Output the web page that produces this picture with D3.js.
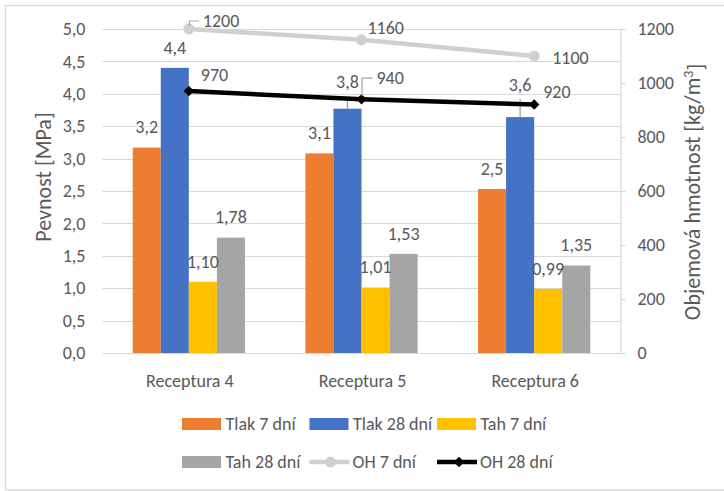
<!DOCTYPE html>
<html><head><meta charset="utf-8">
<script src="https://cdn.jsdelivr.net/npm/d3@7"></script>
<style>
body{margin:0;background:#fff;}
text{font-family:Calibri,Carlito,sans-serif;fill:#595959;}
</style></head>
<body><svg id="chart" width="724" height="491"></svg>
<script>
// ---- data ----
const categories = ["Receptura 4", "Receptura 5", "Receptura 6"];
const seriesNames = ["Tlak 7 dní", "Tlak 28 dní", "Tah 7 dní", "Tah 28 dní"];
const tlak7 = [3.17, 3.08, 2.53];
const tlak28 = [4.40, 3.77, 3.64];
const tah7 = [1.10, 1.01, 0.99];
const tah28 = [1.78, 1.53, 1.35];
const tlak28Err = [0, 0.19, 0.28];
const oh7 = [1200, 1160, 1100];
const oh28 = [970, 940, 920];
const leftTicks = [0, 0.5, 1, 1.5, 2, 2.5, 3, 3.5, 4, 4.5, 5];
const rightTicks = [0, 200, 400, 600, 800, 1000, 1200];
const lineNames = ["OH 7 dní", "OH 28 dní"];

// ---- styles ----
const barColors = ["#ED7D31", "#4472C4", "#FFC000", "#A5A5A5"];
const barDecimals = [1, 1, 2, 2];
const oh7Color = "#D0D0D0", oh28Color = "#000000";
const gridColor = "#D9D9D9";

const svg = d3.select("#chart");
const fmt = (v, d) => v.toFixed(d).replace(".", ",");

// border
svg.append("rect").attr("x", 5.5).attr("y", 5.5).attr("width", 740).attr("height", 484.5)
  .attr("fill", "none").attr("stroke", gridColor).attr("stroke-width", 1.3);

const plotL = 102.5, plotR = 620.5, plotT = 29, plotB = 353;
const yL = d3.scaleLinear().domain([0, 5]).range([plotB, plotT]);
const yR = d3.scaleLinear().domain([0, 1200]).range([plotB, plotT]);
const x0 = d3.scaleBand().domain(categories).range([plotL, plotR]).paddingInner(0.35).paddingOuter(0.175);
const x1 = d3.scaleBand().domain(seriesNames).range([0, x0.bandwidth()]);
const cx = c => x0(c) + x0.bandwidth() / 2;

// gridlines
svg.append("g").selectAll("line").data(leftTicks).join("line")
  .attr("x1", plotL).attr("x2", plotR)
  .attr("y1", d => Math.round(yL(d)) + 0.5).attr("y2", d => Math.round(yL(d)) + 0.5)
  .attr("stroke", gridColor).attr("stroke-width", 1.2);

// left axis labels
const axL = svg.append("g").attr("transform", `translate(${plotL},0)`)
  .call(d3.axisLeft(yL).tickValues(leftTicks).tickSize(0).tickPadding(17).tickFormat(d => fmt(d, 1)));
axL.select(".domain").remove();
axL.selectAll("text").style("font-size", "18px").attr("fill", "#595959");

// right axis
const axR = svg.append("g").attr("transform", `translate(${plotR},0)`)
  .call(d3.axisRight(yR).tickValues(rightTicks).tickSize(5).tickPadding(12).tickFormat(d3.format("d")));
axR.select(".domain").attr("stroke", gridColor).attr("stroke-width", 1.2);
axR.selectAll(".tick line").attr("stroke", gridColor).attr("stroke-width", 1.2);
axR.selectAll("text").style("font-size", "18px").attr("fill", "#595959");

// category labels
svg.append("g").selectAll("text").data(categories).join("text")
  .attr("x", d => cx(d) + 1).attr("y", 387).attr("text-anchor", "middle")
  .style("font-size", "18px").text(d => d);

// bars
const seriesVals = [tlak7, tlak28, tah7, tah28];
const barData = [];
categories.forEach((c, i) => seriesVals.forEach((arr, s) => barData.push({c, i, s, v: arr[i]})));
svg.append("g").selectAll("rect").data(barData).join("rect")
  .attr("x", d => x0(d.c) + x1(seriesNames[d.s]))
  .attr("width", x1.bandwidth())
  .attr("y", d => yL(d.v)).attr("height", d => plotB - yL(d.v))
  .attr("fill", d => barColors[d.s]);

// error bars (Tlak 28 dní, plus)
svg.append("g").selectAll("line").data(categories.map((c, i) => ({c, i})).filter(d => tlak28Err[d.i] > 0)).join("line")
  .attr("x1", d => x0(d.c) + x1(seriesNames[1]) + x1.bandwidth() / 2)
  .attr("x2", d => x0(d.c) + x1(seriesNames[1]) + x1.bandwidth() / 2)
  .attr("y1", d => yL(tlak28[d.i])).attr("y2", d => yL(tlak28[d.i] + tlak28Err[d.i]))
  .attr("stroke", "#9A9A9A").attr("stroke-width", 1.2);

// bar labels
svg.append("g").selectAll("text").data(barData).join("text")
  .attr("x", d => x0(d.c) + x1(seriesNames[d.s]) + x1.bandwidth() / 2)
  .attr("y", d => {
    const e = d.s === 1 ? tlak28Err[d.i] : 0;
    return Math.min(yL(d.v) - 20, yL(d.v + e) - 14) + 5.8;
  })
  .attr("text-anchor", "middle").style("font-size", "18px")
  .text(d => fmt(d.v, barDecimals[d.s]));

// lines
const line = d3.line().x(d => cx(d.c)).y(d => yR(d.v));
const oh7Pts = categories.map((c, i) => ({c, v: oh7[i]}));
const oh28Pts = categories.map((c, i) => ({c, v: oh28[i]}));
svg.append("path").datum(oh7Pts).attr("d", line).attr("fill", "none")
  .attr("stroke", oh7Color).attr("stroke-width", 4.5).attr("stroke-linejoin", "round");
svg.append("g").selectAll("circle").data(oh7Pts).join("circle")
  .attr("cx", d => cx(d.c)).attr("cy", d => yR(d.v)).attr("r", 5.5).attr("fill", oh7Color);
svg.append("path").datum(oh28Pts).attr("d", line).attr("fill", "none")
  .attr("stroke", oh28Color).attr("stroke-width", 4.5).attr("stroke-linejoin", "round");
const diamond = d3.symbol().type(d3.symbolDiamond2).size(70);
svg.append("g").selectAll("path").data(oh28Pts).join("path")
  .attr("transform", d => `translate(${cx(d.c)},${yR(d.v)})`)
  .attr("d", diamond).attr("fill", oh28Color);

// line labels (manually placed in the reference, some with leader lines)
const oh7Off = [[14, -8, true], [6, -12, false], [18, 2.5, false]];
const oh28Off = [[12, -16, false], [15, -21, true], [9, -12.5, false]];
function lineLabels(pts, offs) {
  pts.forEach((p, i) => {
    const px = cx(p.c), py = yR(p.v);
    const [dx, dy, leader] = offs[i];
    const ty = py + dy;
    svg.append("text").attr("x", px + dx).attr("y", ty + 5.8).style("font-size", "18px").text(p.v);
    if (leader) {
      svg.append("path")
        .attr("d", `M${px + 0.5},${py - 3} V${ty} H${px + dx - 4}`)
        .attr("fill", "none").attr("stroke", "#A6A6A6").attr("stroke-width", 1.2);
    }
  });
}
lineLabels(oh7Pts, oh7Off);
lineLabels(oh28Pts, oh28Off);

// axis titles
svg.append("text").attr("transform", "translate(43,177) rotate(-90)")
  .attr("text-anchor", "middle").attr("dy", "0.35em").style("font-size", "22px").text("Pevnost [MPa]");
const rt = svg.append("text").attr("transform", "translate(692,192) rotate(-90)")
  .attr("text-anchor", "middle").attr("dy", "0.35em").style("font-size", "22px");
rt.append("tspan").text("Objemová hmotnost [kg/m");
rt.append("tspan").attr("dy", "-0.45em").style("font-size", "14px").text("3");
rt.append("tspan").attr("dy", "0.45em").text("]");

// legend
const legendItems = [
  {name: seriesNames[0], type: "bar", color: barColors[0]},
  {name: seriesNames[1], type: "bar", color: barColors[1]},
  {name: seriesNames[2], type: "bar", color: barColors[2]},
  {name: seriesNames[3], type: "bar", color: barColors[3]},
  {name: lineNames[0], type: "circle", color: oh7Color},
  {name: lineNames[1], type: "diamond", color: oh28Color}
];
const lg = svg.append("g");
legendItems.forEach((it, k) => {
  const col = k % 3, row = Math.floor(k / 3);
  const lx = 182 + col * 127.5, ly = 424 + row * 38;
  const g = lg.append("g").attr("transform", `translate(${lx},${ly})`);
  if (it.type === "bar") {
    g.append("rect").attr("x", 0).attr("y", -6).attr("width", 39).attr("height", 12).attr("fill", it.color);
  } else {
    g.append("line").attr("x1", 0).attr("x2", 40).attr("y1", 0).attr("y2", 0)
      .attr("stroke", it.color).attr("stroke-width", 4.5);
    if (it.type === "circle") g.append("circle").attr("cx", 21).attr("cy", 0).attr("r", 5.5).attr("fill", it.color);
    else g.append("path").attr("transform", "translate(22,0)").attr("d", diamond).attr("fill", it.color);
  }
  g.append("text").attr("x", it.type === "bar" ? 43.5 : 43).attr("y", 6).style("font-size", "18px").text(it.name);
});
</script></body></html>
